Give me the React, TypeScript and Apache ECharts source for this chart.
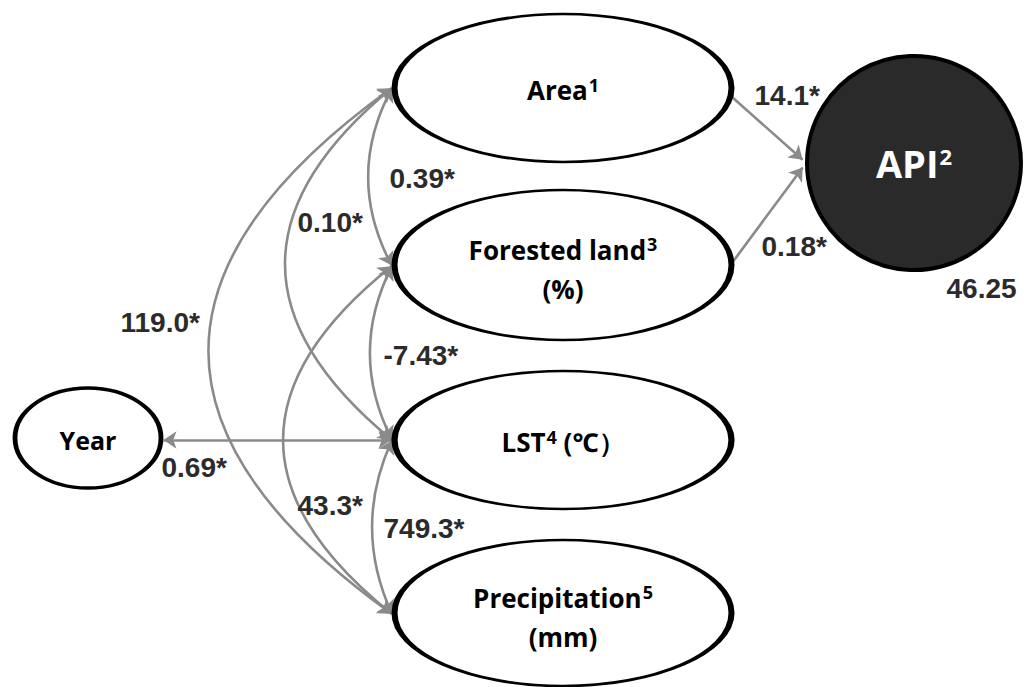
import React, { useEffect, useRef } from 'react';
import * as echarts from 'echarts';

const W = 1024;
const H = 687;

// ---- Data ----
const variables = ['Area', 'Forested land', 'LST', 'Precipitation', 'Year', 'API'];
const superscripts = ['1', '3', '4', '5', '', '2'];
const units = ['', '(%)', ' (℃）', '(mm)', '', ''];
// direct paths to API
const pathFrom = ['Area', 'Forested land'];
const pathCoefs = ['14.1*', '0.18*'];
// covariances (double-headed)
const covA = ['Area', 'Area', 'Area', 'Forested land', 'Forested land', 'LST', 'Year'];
const covB = ['Forested land', 'LST', 'Precipitation', 'LST', 'Precipitation', 'Precipitation', 'LST'];
const covCoefs = ['0.39*', '0.10*', '119.0*', '-7.43*', '43.3*', '749.3*', '0.69*'];
const residualAPI = '46.25';

// ---- Layout / style (positions, not data) ----
const ELLIPSE =
  'path://M0,50C0,22.39 22.39,0 50,0C77.61,0 100,22.39 100,50C100,77.61 77.61,100 50,100C22.39,100 0,77.61 0,50Z';
const nodeLayout: Record<string, { x: number; y: number; size: any }> = {
  Area: { x: 563, y: 88, size: [337, 148] },
  'Forested land': { x: 563, y: 265, size: [337, 150] },
  LST: { x: 563, y: 440, size: [337, 138] },
  Precipitation: { x: 563, y: 613, size: [337, 146] },
  Year: { x: 88, y: 438, size: [146, 100] },
  API: { x: 914, y: 163, size: 214 },
};
// left-side anchor points of the covariance arrows
const leftAnchor: Record<string, [number, number]> = {
  Area: [392, 88],
  'Forested land': [392, 266],
  LST: [392, 440],
  Precipitation: [392, 614],
  Year: [163, 440],
};
const rightAnchor: Record<string, [number, number]> = {
  Area: [732, 97],
  'Forested land': [732, 263],
};
const apiAnchor: [number, number][] = [[803, 160], [803, 167]];
const covCurveness = [-0.268, -0.608, -0.698, -0.254, -0.626, -0.229, 0];
const covLabelPos: [number, number][] = [
  [389, 178], [297, 222], [120, 322], [383, 355], [297, 505], [383, 528], [161, 467],
];
const pathLabelPos: [number, number][] = [[754, 95], [761, 246]];
const residualPos: [number, number] = [946, 288];

const FONT = "'Open Sans', 'Noto Sans', sans-serif";
const NUMFONT = "'Liberation Sans', Arial, sans-serif";

function nodeRich(big: number, sup: number, raisePad: number, color: string) {
  const lh = Math.round(big * 1.5);
  return {
    t: { fontSize: big, fontWeight: 'bold', fontFamily: FONT, color, lineHeight: lh },
    s: {
      fontSize: sup,
      fontWeight: 'bold',
      fontFamily: FONT,
      color,
      padding: [0, 0, raisePad, 1],
    },
  };
}

function buildOption() {
  const nodes: any[] = [];
  const links: any[] = [];
  // invisible corner nodes to pin the view to pixel coordinates
  const hidden = { color: 'transparent', borderWidth: 0 };
  nodes.push({ name: '__c0', x: 0, y: 0, symbolSize: 1, itemStyle: hidden, label: { show: false } });
  nodes.push({ name: '__c1', x: W, y: H, symbolSize: 1, itemStyle: hidden, label: { show: false } });

  variables.forEach((v, i) => {
    const L = nodeLayout[v];
    const isApi = v === 'API';
    const big = isApi ? 38 : v === 'Year' ? 25 : 26;
    const sup = isApi ? 22 : 18;
    const pad = isApi ? 15 : 11;
    const color = isApi ? '#ffffff' : '#000000';
    let fmt = '{t|' + v + '}' + (superscripts[i] ? '{s|' + superscripts[i] + '}' : '');
    if (units[i]) fmt += units[i].startsWith(' ') ? '{t|' + units[i] + '}' : '\n{t|' + units[i] + '}';
    nodes.push({
      name: v,
      x: L.x,
      y: L.y,
      symbol: isApi ? 'circle' : ELLIPSE,
      symbolSize: L.size,
      itemStyle: { color: isApi ? '#2a2a2a' : '#ffffff', borderColor: '#000', borderWidth: 4 },
      label: {
        show: true,
        position: 'inside',
        formatter: fmt,
        rich: nodeRich(big, sup, pad, color),
        lineHeight: Math.round(big * 1.5),
        offset: [0, units[i] && !units[i].startsWith(' ') ? 4 : isApi ? 0 : 2],
      },
    });
  });

  const anchorNode = (name: string, p: [number, number]) => {
    nodes.push({ name, x: p[0], y: p[1], symbolSize: 1, itemStyle: hidden, label: { show: false } });
  };
  Object.keys(leftAnchor).forEach((k) => anchorNode('L_' + k, leftAnchor[k]));
  Object.keys(rightAnchor).forEach((k) => anchorNode('R_' + k, rightAnchor[k]));
  apiAnchor.forEach((p, i) => anchorNode('API_' + i, p));

  const numLabel = (name: string, p: [number, number], text: string) => {
    nodes.push({
      name,
      x: p[0],
      y: p[1],
      symbolSize: 1,
      itemStyle: hidden,
      label: {
        show: true,
        position: 'right',
        distance: 0,
        formatter: text,
        color: '#2b2b2b',
        fontSize: 28,
        fontWeight: 'bold',
        fontFamily: NUMFONT,
      },
    });
  };

  covA.forEach((a, i) => {
    links.push({
      source: 'L_' + a,
      target: 'L_' + covB[i],
      symbol: ['arrow', 'arrow'],
      lineStyle: { curveness: covCurveness[i] },
    });
    numLabel('cov_' + i, covLabelPos[i], covCoefs[i]);
  });
  pathFrom.forEach((f, i) => {
    links.push({ source: 'R_' + f, target: 'API_' + i, symbol: ['none', 'arrow'], lineStyle: { curveness: 0 } });
    numLabel('path_' + i, pathLabelPos[i], pathCoefs[i]);
  });
  numLabel('resid', residualPos, residualAPI);

  return {
    animation: false,
    backgroundColor: '#ffffff',
    series: [
      {
        type: 'graph',
        layout: 'none',
        left: 0,
        top: 0,
        width: W,
        height: H,
        roam: false,
        silent: true,
        emphasis: { disabled: true },
        edgeSymbolSize: [13, 13],
        lineStyle: { color: '#8a8a8a', width: 2.6, opacity: 1 },
        data: nodes,
        links,
      },
    ],
  };
}

export default function App() {
  const ref = useRef<HTMLDivElement>(null);
  useEffect(() => {
    if (!ref.current) return;
    const chart = echarts.init(ref.current, undefined, { renderer: 'svg' });
    chart.setOption(buildOption() as any);
    return () => chart.dispose();
  }, []);
  return (
    <div
      ref={ref}
      style={{ position: 'absolute', left: 0, top: 0, width: W, height: H, background: '#fff' }}
    />
  );
}
